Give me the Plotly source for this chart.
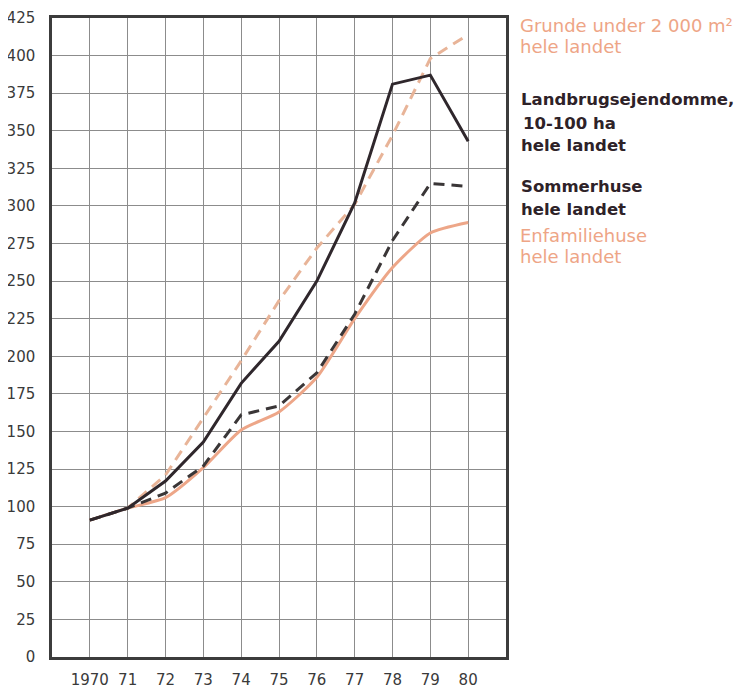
import plotly.graph_objects as go

years = [1970, 1971, 1972, 1973, 1974, 1975, 1976, 1977, 1978, 1979, 1980]
year_labels = ["1970", "71", "72", "73", "74", "75", "76", "77", "78", "79", "80"]

grunde = [91, 99, 121, 159, 197, 237, 272, 301, 347, 398, 414]
landbrug = [91, 99, 117, 143, 182, 210, 250, 302, 381, 387, 343]
sommerhuse = [91, 99, 109, 127, 161, 167, 189, 228, 277, 315, 313]
enfamilie = [91, 99, 106, 126, 151, 163, 186, 225, 259, 282, 289]

y_ticks = list(range(0, 426, 25))

C_GRUNDE = "#e8b498"
C_LAND = "#2f272c"
C_SOMMER = "#3a3637"
C_ENF = "#eda688"
C_TXT_LIGHT = "#eea586"
C_TXT_DARK = "#2e2228"

fig = go.Figure()
fig.add_trace(go.Scatter(x=years, y=enfamilie, mode="lines",
                         line=dict(color=C_ENF, width=3, shape="spline", smoothing=0.6)))
fig.add_trace(go.Scatter(x=years, y=grunde, mode="lines",
                         line=dict(color=C_GRUNDE, width=3, dash="11px,7px")))
fig.add_trace(go.Scatter(x=years, y=sommerhuse, mode="lines",
                         line=dict(color=C_SOMMER, width=3, dash="11px,7px")))
fig.add_trace(go.Scatter(x=years, y=landbrug, mode="lines",
                         line=dict(color=C_LAND, width=3)))

# page is rendered with an 8px body margin
OFF = 8
W, H = 745 - OFF, 688 - OFF
L, T = 52 - OFF, 18 - OFF
R = W - (506 - OFF)
B = H - (657 - OFF)
ph = H - T - B
pw = W - L - R

labels = [
    ("Grunde under 2 000 m²", 25, C_TXT_LIGHT, False, 518),
    ("hele landet", 47, C_TXT_LIGHT, False, 518),
    ("Landbrugsejendomme,", 100, C_TXT_DARK, True, 519),
    ("10-100 ha", 123, C_TXT_DARK, True, 521),
    ("hele landet", 145, C_TXT_DARK, True, 519),
    ("Sommerhuse", 186, C_TXT_DARK, True, 519),
    ("hele landet", 209, C_TXT_DARK, True, 519),
    ("Enfamiliehuse", 235, C_TXT_LIGHT, False, 518),
    ("hele landet", 257, C_TXT_LIGHT, False, 518),
]
for text, ypix, col, bold, xpix in labels:
    fx = xpix - OFF
    fy = ypix - OFF
    fig.add_annotation(
        x=(fx - L) / pw, y=(H - B - fy) / ph, xref="paper", yref="paper",
        xanchor="left", yanchor="middle", showarrow=False,
        text=f"<b>{text}</b>" if bold else text,
        font=dict(family="DejaVu Sans", size=16.5 if bold else 18, color=col),
    )

fig.update_layout(
    width=W, height=H,
    margin=dict(l=L, r=R, t=T, b=B, autoexpand=False),
    paper_bgcolor="white", plot_bgcolor="white",
    showlegend=False,
    font=dict(family="DejaVu Sans", size=15, color="#3a3a3a"),
)
fig.update_xaxes(
    range=[1969, 1981], tickmode="array", tickvals=years, ticktext=year_labels,
    showgrid=True, gridcolor="#8c8c8c", gridwidth=1.3,
    showline=True, linecolor="#3c3c3c", linewidth=2.5, mirror=True,
    zeroline=False, ticks="", ticklabelstandoff=7, automargin=False,
)
fig.update_yaxes(
    range=[0, 425], tickmode="array", tickvals=y_ticks,
    showgrid=True, gridcolor="#8c8c8c", gridwidth=1.3,
    showline=True, linecolor="#3c3c3c", linewidth=2.5, mirror=True,
    zeroline=False, ticks="", ticklabelstandoff=11, automargin=False,
)

fig.write_html("out.html")
